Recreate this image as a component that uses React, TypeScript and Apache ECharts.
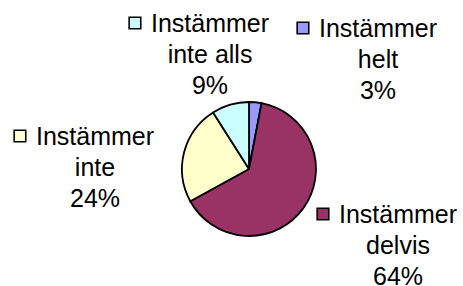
import React, { useEffect, useRef } from "react";
import * as echarts from "echarts";

const categories = ["Instämmer helt", "Instämmer delvis", "Instämmer inte", "Instämmer inte alls"];
const values = [3, 64, 24, 9];
const colors = ["#9999FF", "#993366", "#FFFFCC", "#CCFFFF"];
// label block centers (layout only)
const labelPos = [
  [378, 59],
  [398, 245],
  [95, 167],
  [210, 54],
];

export default function App() {
  const ref = useRef<HTMLDivElement>(null);
  useEffect(() => {
    const chart = echarts.init(ref.current!, null, { renderer: "svg" });
    const font = "'Liberation Sans', Arial, sans-serif";
    const rich: any = {
      gap: { width: 11, height: 10 },
      pad: { width: 21, height: 10 },
      t: { fontSize: 25, fontFamily: font, color: "#000", lineHeight: 31 },
    };
    colors.forEach((c, i) => {
      rich["sq" + i] = {
        width: 10,
        height: 10,
        backgroundColor: c,
        borderColor: "#000",
        borderWidth: 1.6,
      };
    });
    chart.setOption({
      animation: false,
      series: [
        {
          type: "pie",
          center: [249, 169],
          radius: 67,
          startAngle: 90,
          clockwise: true,
          data: categories.map((n, i) => ({
            name: n,
            value: values[i],
            itemStyle: { color: colors[i] },
          })),
          itemStyle: { borderColor: "#000", borderWidth: 1.8 },
          labelLine: { show: false },
          label: {
            show: true,
            position: "outside",
            align: "center",
            overflow: "none",
            fontSize: 25,
            fontFamily: font,
            color: "#000",
            lineHeight: 31,
            rich,
            formatter: (p: any) => {
              const idx = p.dataIndex;
              const sp = p.name.indexOf(" ");
              const first = p.name.slice(0, sp);
              const rest = p.name.slice(sp + 1);
              return `{sq${idx}|}{gap|}{t|${first}}{pad|}\n{t|${rest}}\n{t|${Math.round(p.percent)}%}`;
            },
          },
          labelLayout: (params: any) => {
            const pos = labelPos[params.dataIndex];
            return { x: pos[0], y: pos[1], align: "center", verticalAlign: "middle" };
          },
        },
      ],
    });
    return () => chart.dispose();
  }, []);
  return (
    <div
      ref={ref}
      style={{ position: "absolute", left: 0, top: 0, width: 463, height: 286, background: "#fff" }}
    />
  );
}
